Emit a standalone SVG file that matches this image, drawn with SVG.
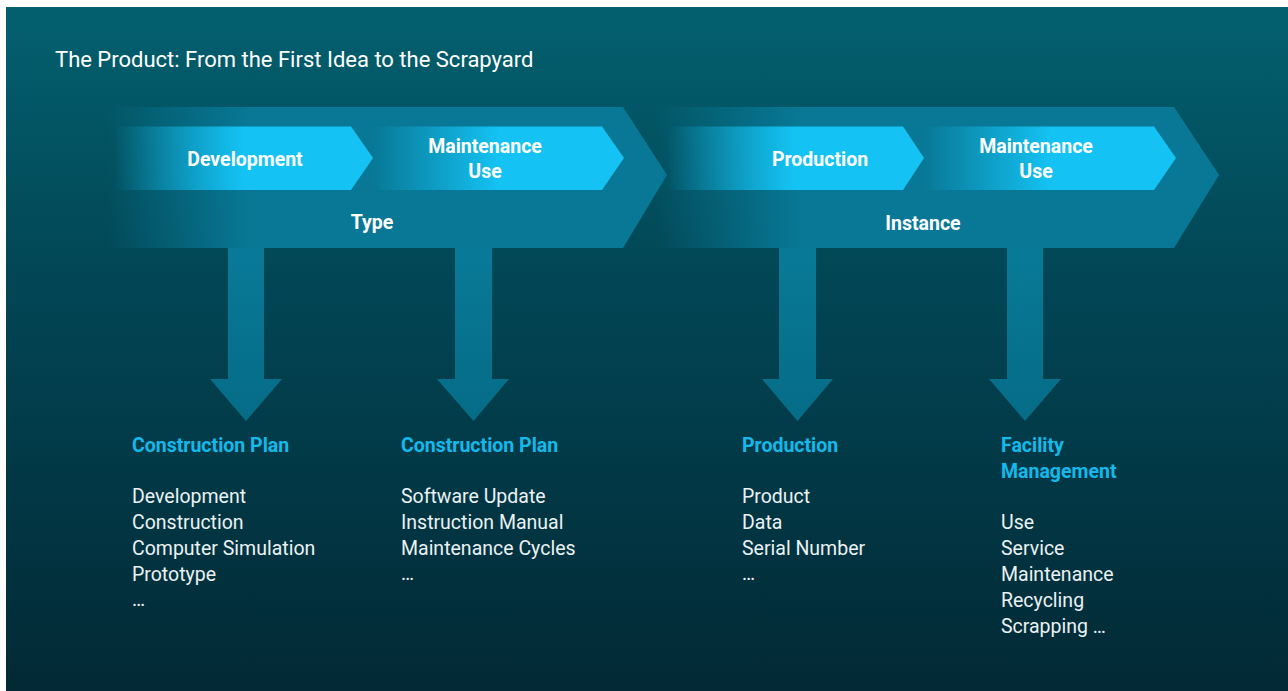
<svg xmlns="http://www.w3.org/2000/svg" width="1288" height="691" viewBox="0 0 1288 691">
<defs>
<linearGradient id="bg" x1="0" y1="0" x2="0" y2="1">
<stop offset="0" stop-color="#03606f"/>
<stop offset="0.4" stop-color="#024655"/>
<stop offset="1" stop-color="#022935"/>
</linearGradient>
<linearGradient id="bigA" gradientUnits="userSpaceOnUse" x1="108" y1="0" x2="250" y2="0">
<stop offset="0" stop-color="#087896" stop-opacity="0"/>
<stop offset="1" stop-color="#087896" stop-opacity="1"/>
</linearGradient>
<linearGradient id="bigB" gradientUnits="userSpaceOnUse" x1="655" y1="0" x2="800" y2="0">
<stop offset="0" stop-color="#087896" stop-opacity="0"/>
<stop offset="1" stop-color="#087896" stop-opacity="1"/>
</linearGradient>
<linearGradient id="l1" gradientUnits="userSpaceOnUse" x1="115" y1="0" x2="245" y2="0">
<stop offset="0" stop-color="#14c3f4" stop-opacity="0"/>
<stop offset="1" stop-color="#14c3f4" stop-opacity="1"/>
</linearGradient>
<linearGradient id="l2" gradientUnits="userSpaceOnUse" x1="373" y1="0" x2="500" y2="0">
<stop offset="0" stop-color="#14c3f4" stop-opacity="0"/>
<stop offset="1" stop-color="#14c3f4" stop-opacity="1"/>
</linearGradient>
<linearGradient id="l3" gradientUnits="userSpaceOnUse" x1="667" y1="0" x2="795" y2="0">
<stop offset="0" stop-color="#14c3f4" stop-opacity="0"/>
<stop offset="1" stop-color="#14c3f4" stop-opacity="1"/>
</linearGradient>
<linearGradient id="l4" gradientUnits="userSpaceOnUse" x1="924" y1="0" x2="1052" y2="0">
<stop offset="0" stop-color="#14c3f4" stop-opacity="0"/>
<stop offset="1" stop-color="#14c3f4" stop-opacity="1"/>
</linearGradient>
<linearGradient id="arr" gradientUnits="userSpaceOnUse" x1="0" y1="248" x2="0" y2="421">
<stop offset="0" stop-color="#087a98"/>
<stop offset="1" stop-color="#066c87"/>
</linearGradient>
<style>
.t{font-family:Roboto,"Liberation Sans",sans-serif;fill:#ffffff}
.title{font-size:22px;font-weight:400}
.lab{font-size:19.5px;font-weight:700;text-anchor:middle}
.head{font-size:19.5px;font-weight:700;fill:#14b9ea}
.item{font-size:19.5px;font-weight:400;fill:#eaf2f4}
</style>
</defs>
<rect x="6" y="7" width="1282" height="684" fill="url(#bg)"/>
<text class="t title" x="55" y="67">The Product: From the First Idea to the Scrapyard</text>

<g id="connectors">
<path d="M228,248 H264 V379 H282 L246,421 L210,379 H228 Z" fill="url(#arr)"/>
<path d="M455,248 H492 V379 H509 L473.5,421 L437,379 H455 Z" fill="url(#arr)"/>
<path d="M779,248 H816 V379 H833 L797.5,421 L762,379 H779 Z" fill="url(#arr)"/>
<path d="M1007,248 H1043 V379 H1061 L1025,421 L989,379 H1007 Z" fill="url(#arr)"/>
</g>

<g id="instance">
<path d="M655,107 H1174 L1219,175 L1174,248 H655 Z" fill="url(#bigB)"/>
<text class="t lab" x="923" y="230">Instance</text>
</g>
<g id="type">
<path d="M108,107 H623 L667,175 L623,248 H108 Z" fill="url(#bigA)"/>
<text class="t lab" x="372" y="229">Type</text>
</g>
<g id="development">
<path d="M115,126.5 H351 L373,158 L351,190 H115 Z" fill="url(#l1)"/>
<text class="t lab" x="245" y="166">Development</text>
</g>
<g id="maintenance-use-1">
<path d="M373,126.5 H602 L624,158 L602,190 H373 Z" fill="url(#l2)"/>
<text class="t lab" x="485" y="153">Maintenance</text>
<text class="t lab" x="485" y="178">Use</text>
</g>
<g id="production">
<path d="M667,126.5 H903 L924,158 L903,190 H667 Z" fill="url(#l3)"/>
<text class="t lab" x="820" y="166">Production</text>
</g>
<g id="maintenance-use-2">
<path d="M924,126.5 H1154 L1176,158 L1154,190 H924 Z" fill="url(#l4)"/>
<text class="t lab" x="1036" y="153">Maintenance</text>
<text class="t lab" x="1036" y="178">Use</text>
</g>

<g id="list-construction-plan-1">
<text class="t head" x="132" y="452">Construction Plan</text>
<text class="t item" x="132" y="503">Development</text>
<text class="t item" x="132" y="529">Construction</text>
<text class="t item" x="132" y="555">Computer Simulation</text>
<text class="t item" x="132" y="581">Prototype</text>
<text class="t item" x="132" y="606">…</text>
</g>
<g id="list-construction-plan-2">
<text class="t head" x="401" y="452">Construction Plan</text>
<text class="t item" x="401" y="503">Software Update</text>
<text class="t item" x="401" y="529">Instruction Manual</text>
<text class="t item" x="401" y="555">Maintenance Cycles</text>
<text class="t item" x="401" y="580">…</text>
</g>
<g id="list-production">
<text class="t head" x="742" y="452">Production</text>
<text class="t item" x="742" y="503">Product</text>
<text class="t item" x="742" y="529">Data</text>
<text class="t item" x="742" y="555">Serial Number</text>
<text class="t item" x="742" y="580">…</text>
</g>
<g id="list-facility-management">
<text class="t head" x="1001" y="452">Facility</text>
<text class="t head" x="1001" y="478">Management</text>
<text class="t item" x="1001" y="529">Use</text>
<text class="t item" x="1001" y="555">Service</text>
<text class="t item" x="1001" y="581">Maintenance</text>
<text class="t item" x="1001" y="607">Recycling</text>
<text class="t item" x="1001" y="633">Scrapping …</text>
</g>
</svg>
